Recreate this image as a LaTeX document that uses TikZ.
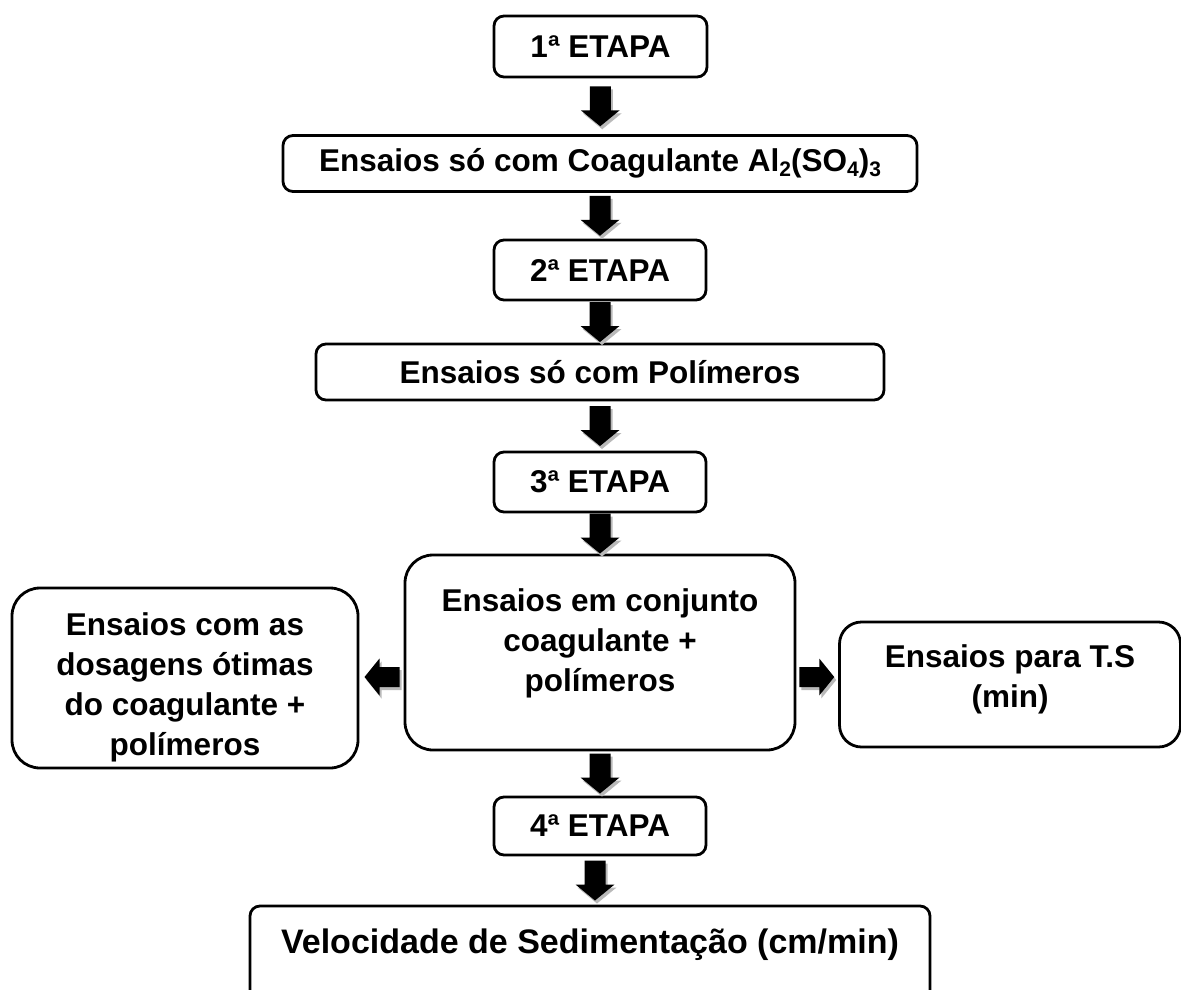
\documentclass[tikz,border=0pt]{standalone}
\usepackage{fontspec}
\setmainfont{Liberation Sans}
\usetikzlibrary{calc}
\newcommand{\lowsub}[1]{\raisebox{-0.3ex}{\fontsize{21}{21}\selectfont #1}}
\newcommand{\shiftup}[2]{\raisebox{#1}[\height][\depth]{\begin{tabular}{@{}c@{}}#2\end{tabular}}}
\begin{document}
\begin{tikzpicture}[x=1pt,y=-1pt,
  box/.style={draw, line width=2.8pt, rounded corners=10pt, font=\bfseries\fontsize{31.5}{40}\selectfont, align=center, inner sep=0pt},
  shade/.style={fill=gray!55},
  solid arrow/.style={fill=black}]
\clip (0,0) rectangle (1181,989);
\useasboundingbox (0,0) rectangle (1181,989);
\fill[white] (0,0) rectangle (1181,989);

\node[box, minimum width=213pt, minimum height=61pt] (e1) at (600.5,46.5) {1ª ETAPA};
\node[box, minimum width=634pt, minimum height=56pt] (coag) at (600,163.5) {Ensaios só com Coagulante Al\lowsub{2}(SO\lowsub{4})\lowsub{3}};
\node[box, minimum width=212pt, minimum height=60pt] (e2) at (600,270) {2ª ETAPA};
\node[box, minimum width=568pt, minimum height=56pt] (poly) at (600,372) {Ensaios só com Polímeros};
\node[box, minimum width=212pt, minimum height=60pt] (e3) at (600,482) {3ª ETAPA};
\node[box, rounded corners=28pt, minimum width=390pt, minimum height=195pt] (mid) at (600,652.5) {\shiftup{9pt}{Ensaios em conjunto\\coagulante +\\polímeros}};
\node[box, rounded corners=28pt, minimum width=346pt, minimum height=180pt] (left) at (185,678) {\shiftup{-9pt}{Ensaios com as\\dosagens ótimas\\do coagulante +\\polímeros}};
\node[box, rounded corners=22pt, minimum width=341pt, minimum height=125pt] (right) at (1010,684.5) {\shiftup{5pt}{Ensaios para T.S\\(min)}};
\node[box, minimum width=212pt, minimum height=58pt] (e4) at (600,826) {4ª ETAPA};
\node[box, font=\bfseries\fontsize{34}{40}\selectfont, minimum width=680pt, text height=47pt, text depth=53pt, anchor=base] (vel) at (590,953) {Velocidade de Sedimentação (cm/min)};

\newcommand{\flowdown}[2]{%
  \coordinate (m) at ($(#1.south)!0.5!(#2.north)$);
  \foreach \sx/\sy/\st in {2/3/shade, 0/0/solid arrow}{
    \fill[\st] ([shift={(\sx-10.5,\sy-20)}]m) -- ([shift={(\sx+10.5,\sy-20)}]m)
      -- ([shift={(\sx+10.5,\sy+4)}]m) -- ([shift={(\sx+19.5,\sy+4)}]m)
      -- ([shift={(\sx,\sy+20)}]m) -- ([shift={(\sx-19.5,\sy+4)}]m)
      -- ([shift={(\sx-10.5,\sy+4)}]m) -- cycle;
  }}
\newcommand{\flowside}[3]{% #1 from, #2 to, #3 direction (+1 right, -1 left)
  \coordinate (m0) at ($(#1)!0.5!(#2)$);
  \coordinate (m) at (m0 |- 0,677);
  \foreach \sx/\sy/\st in {2/3/shade, 0/0/solid arrow}{
    \fill[\st] ([shift={(\sx-18*#3,\sy-10)}]m) -- ([shift={(\sx+2*#3,\sy-10)}]m)
      -- ([shift={(\sx+2*#3,\sy-18.5)}]m) -- ([shift={(\sx+17*#3,\sy)}]m)
      -- ([shift={(\sx+2*#3,\sy+18.5)}]m) -- ([shift={(\sx+2*#3,\sy+10)}]m)
      -- ([shift={(\sx-18*#3,\sy+10)}]m) -- cycle;
  }}

\flowdown{e1}{coag}
\flowdown{coag}{e2}
\flowdown{e2}{poly}
\flowdown{poly}{e3}
\flowdown{e3}{mid}
\flowdown{mid}{e4}
\flowdown{e4}{vel}
\flowside{mid.west}{left.east}{-1}
\flowside{mid.east}{right.west}{1}
\end{tikzpicture}
\end{document}
